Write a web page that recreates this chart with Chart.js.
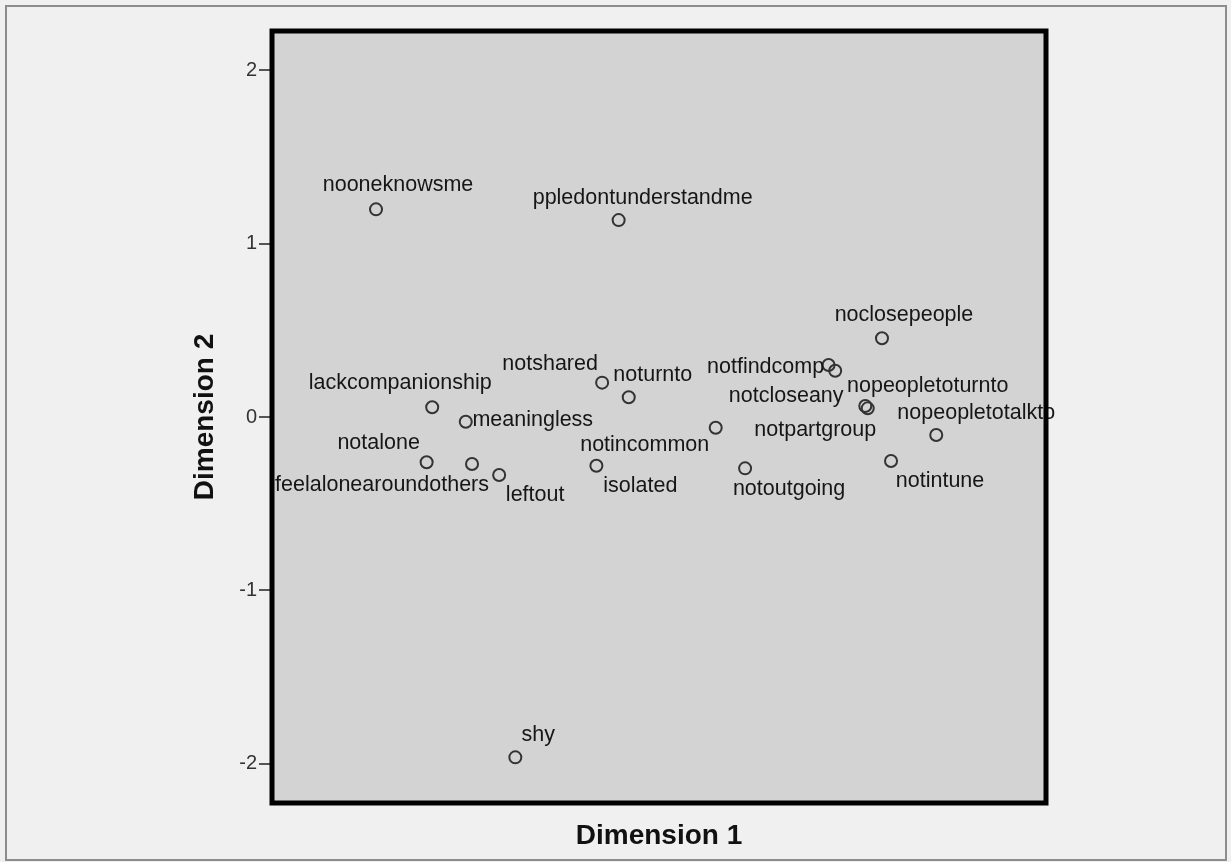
<!DOCTYPE html>
<html>
<head>
<meta charset="utf-8">
<title>Dimension 1 vs Dimension 2</title>
<script src="https://cdn.jsdelivr.net/npm/chart.js@4"></script>
<style>
	html, body { margin: 0; padding: 0; background: #f0f0f0; }
	canvas { display: block; }
</style>
</head>
<body>
<canvas id="mdsChart" width="1231" height="862"></canvas>
<script>
// item names and their coordinates in the two-dimensional solution
const items = [
	'nooneknowsme', 'ppledontunderstandme', 'noclosepeople', 'notfindcomp', 'notcloseany',
	'notshared', 'noturnto', 'notpartgroup', 'nopeopletoturnto', 'nopeopletotalkto',
	'notincommon', 'notintune', 'notoutgoing', 'isolated', 'lackcompanionship',
	'meaningless', 'notalone', 'feelalonearoundothers', 'leftout', 'shy'
];
const dimension1 = [
	-1.627, -0.232, 1.282, 0.975, 1.013,
	-0.327, -0.174, 1.186, 1.200, 1.594,
	0.326, 1.334, 0.495, -0.360, -1.304,
	-1.111, -1.336, -1.075, -0.919, -0.826
];
const dimension2 = [
	1.197, 1.135, 0.454, 0.300, 0.267,
	0.198, 0.114, 0.063, 0.050, -0.104,
	-0.062, -0.254, -0.296, -0.281, 0.056,
	-0.027, -0.261, -0.271, -0.334, -1.962
];
const axisMin = -2.225;
const axisMax = 2.225;

// where each label sits relative to its point (pixels), like the spss layout
const labelShift = [
	[22, -24], [24, -22], [22, -23], [-63, 2], [-49, 25],
	[-52, -19], [24, -22], [-50, 24], [60, -22], [40, -22],
	[-71, 17], [49, 20], [44, 21], [44, 20], [-32, -24],
	[67, -2], [-48, -19], [-90, 21], [36, 20], [23, -22]
];

const points = items.map(function(name, i) {
	return { x: dimension1[i], y: dimension2[i] };
});

const backdrop = {
	id: 'backdrop',
	beforeDraw: function(chart) {
		const c = chart.ctx;
		const a = chart.chartArea;
		c.save();
		c.fillStyle = '#f0f0f0';
		c.fillRect(0, 0, chart.width, chart.height);
		c.strokeStyle = '#8c8c8c';
		c.lineWidth = 2;
		c.strokeRect(6, 6, 1220, 854);
		c.fillStyle = '#d3d3d3';
		c.fillRect(a.left, a.top, a.right - a.left, a.bottom - a.top);
		c.restore();
	},
	afterDraw: function(chart) {
		const c = chart.ctx;
		const a = chart.chartArea;
		c.save();
		c.strokeStyle = '#000';
		c.lineWidth = 5;
		c.strokeRect(a.left, a.top, a.right - a.left, a.bottom - a.top);
		c.restore();
	}
};

const pointLabels = {
	id: 'pointLabels',
	afterDatasetsDraw: function(chart) {
		const c = chart.ctx;
		const meta = chart.getDatasetMeta(0);
		c.save();
		c.font = '21.5px "Liberation Sans", Arial, sans-serif';
		c.fillStyle = '#161616';
		c.textAlign = 'center';
		c.textBaseline = 'middle';
		meta.data.forEach(function(el, i) {
			c.fillText(items[i], el.x + labelShift[i][0], el.y + labelShift[i][1]);
		});
		c.restore();
	}
};

new Chart(document.getElementById('mdsChart').getContext('2d'), {
	type: 'scatter',
	data: {
		datasets: [{
			data: points,
			pointRadius: 6,
			pointHoverRadius: 6,
			pointBorderWidth: 2,
			pointBorderColor: '#333',
			pointBackgroundColor: 'rgba(0,0,0,0)'
		}]
	},
	options: {
		responsive: false,
		animation: false,
		events: [],
		layout: { padding: { left: 180, top: 31, right: 185, bottom: 0 } },
		plugins: { legend: { display: false }, tooltip: { enabled: false } },
		scales: {
			x: {
				min: axisMin,
				max: axisMax,
				grid: { display: false },
				border: { display: false },
				ticks: { display: false },
				title: {
					display: true,
					text: 'Dimension 1',
					color: '#111',
					font: { family: '"Liberation Sans", Arial, sans-serif', size: 28, weight: 'bold' },
					padding: { top: 0, bottom: 9 }
				},
				afterFit: function(scale) { scale.height = 59; }
			},
			y: {
				min: axisMin,
				max: axisMax,
				grid: { drawOnChartArea: false, drawTicks: true, tickLength: 13, tickColor: '#555', lineWidth: 2 },
				border: { display: false },
				ticks: {
					stepSize: 1,
					includeBounds: false,
					padding: 2,
					color: '#333',
					font: { family: '"Liberation Sans", Arial, sans-serif', size: 20 }
				},
				title: {
					display: true,
					text: 'Dimension 2',
					color: '#111',
					font: { family: '"Liberation Sans", Arial, sans-serif', size: 28, weight: 'bold' },
					padding: { top: 8, bottom: 0 }
				},
				afterFit: function(scale) { scale.width = 92; }
			}
		}
	},
	plugins: [backdrop, pointLabels]
});
</script>
</body>
</html>
